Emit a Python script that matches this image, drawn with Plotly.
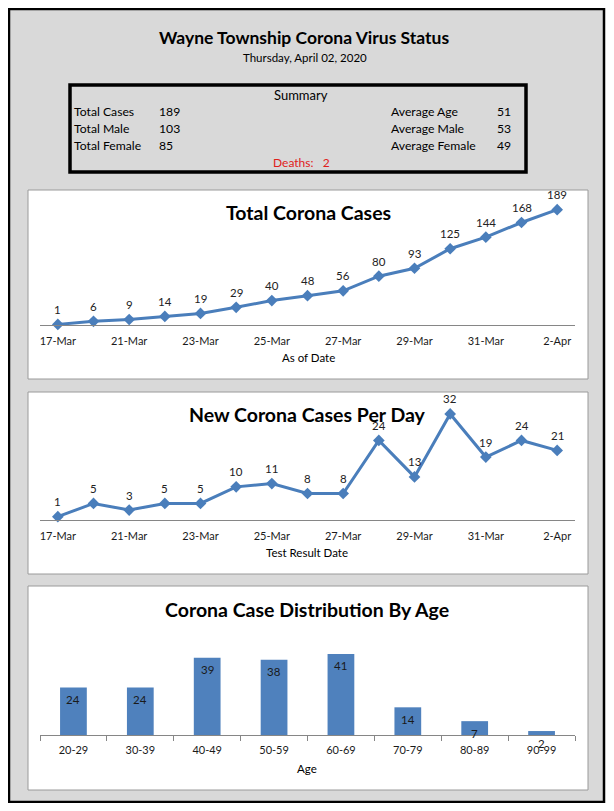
import plotly.graph_objects as go

# page offset: the browser adds an 8px body margin, so the figure is drawn
# 8px in from the window corner; all layout coordinates below are window pixels.
OFF = 8
FW, FH = 598, 795

# ---------------- data ----------------
dates = ["17-Mar", "19-Mar", "21-Mar", "22-Mar", "23-Mar", "24-Mar", "25-Mar", "26-Mar",
         "27-Mar", "28-Mar", "29-Mar", "30-Mar", "31-Mar", "1-Apr", "2-Apr"]
total_cases = [1, 6, 9, 14, 19, 29, 40, 48, 56, 80, 93, 125, 144, 168, 189]
new_cases = [1, 5, 3, 5, 5, 10, 11, 8, 8, 24, 13, 32, 19, 24, 21]
age_groups = ["20-29", "30-39", "40-49", "50-59", "60-69", "70-79", "80-89", "90-99"]
age_counts = [24, 24, 39, 38, 41, 14, 7, 2]

summary_left_labels = ["Total Cases", "Total Male", "Total Female"]
summary_left_values = [189, 103, 85]
summary_right_labels = ["Average Age", "Average Male", "Average Female"]
summary_right_values = [51, 53, 49]
deaths = 2

FONT = "Lato"
LINE_COLOR = "#4a7ebb"
BAR_COLOR = "#4f81bd"


def px(x):
    return (x - OFF) / FW


def py(y):
    return 1 - (y - OFF) / FH


fig = go.Figure()

# ---------- line chart 1 ----------
fig.add_trace(go.Scatter(
    x=dates, y=total_cases, mode="lines+markers",
    line=dict(color=LINE_COLOR, width=3),
    marker=dict(symbol="diamond", size=9, color=LINE_COLOR),
    xaxis="x", yaxis="y", showlegend=False, cliponaxis=False))

# ---------- line chart 2 ----------
fig.add_trace(go.Scatter(
    x=dates, y=new_cases, mode="lines+markers",
    line=dict(color=LINE_COLOR, width=3),
    marker=dict(symbol="diamond", size=9, color=LINE_COLOR),
    xaxis="x2", yaxis="y2", showlegend=False, cliponaxis=False))

# ---------- bar chart ----------
fig.add_trace(go.Bar(
    x=age_groups, y=age_counts, marker=dict(color=BAR_COLOR, line=dict(width=0)),
    width=0.4, xaxis="x3", yaxis="y3", showlegend=False))

xdom = [px(40), px(575)]
tickfont = dict(family=FONT, size=11, color="#1a1a1a")
line_x_common = dict(
    type="category", range=[-0.5, len(dates) - 0.5], domain=xdom,
    tickmode="array", tickvals=dates[::2], ticktext=dates[::2],
    showline=True, linecolor="#868686", linewidth=1, showgrid=False,
    zeroline=False, ticks="outside", ticklen=6, tickcolor="rgba(0,0,0,0)",
    tickfont=tickfont, fixedrange=True)

fig.update_layout(
    width=FW, height=FH,
    margin=dict(l=0, r=0, t=0, b=0),
    paper_bgcolor="white", plot_bgcolor="rgba(0,0,0,0)",
    font=dict(family=FONT, color="#000"),
    xaxis=dict(anchor="y", **line_x_common),
    yaxis=dict(domain=[py(325), py(203)], range=[0, 200], visible=False, fixedrange=True),
    xaxis2=dict(anchor="y2", **line_x_common),
    yaxis2=dict(domain=[py(520), py(404)], range=[0, 35], visible=False, fixedrange=True),
    xaxis3=dict(anchor="y3", type="category", domain=xdom, range=[-0.5, len(age_groups) - 0.5],
                showline=True, linecolor="#868686", linewidth=1, showgrid=False,
                ticks="outside", tickson="boundaries", ticklen=5, tickcolor="#868686",
                ticklabelstandoff=5, tickfont=tickfont, fixedrange=True),
    yaxis3=dict(domain=[py(735), py(646)], range=[0, 45], visible=False, fixedrange=True),
)

shapes = []
# page frame
shapes.append(dict(type="rect", xref="paper", yref="paper", x0=px(9), x1=px(604), y0=py(802), y1=py(9),
                   fillcolor="#d9d9d9", line=dict(color="black", width=2.5), layer="below"))
# panels
for top, bot in [(190, 379), (392, 574), (586, 790)]:
    shapes.append(dict(type="rect", xref="paper", yref="paper", x0=px(28), x1=px(588),
                       y0=py(bot), y1=py(top), fillcolor="white",
                       line=dict(color="#9a9a9a", width=1), layer="below"))
# summary box
shapes.append(dict(type="rect", xref="paper", yref="paper", x0=px(70), x1=px(526),
                   y0=py(172), y1=py(85), fillcolor="rgba(0,0,0,0)",
                   line=dict(color="black", width=3.5), layer="above"))
fig.update_layout(shapes=shapes)

ann = []


def text(x, y, s, size=11, color="#000", anchor="center", bold=False):
    ann.append(dict(xref="paper", yref="paper", x=px(x), y=py(y), text=f"<b>{s}</b>" if bold else s,
                    showarrow=False, xanchor=anchor, yanchor="middle",
                    font=dict(family=FONT, size=size, color=color)))


text(304, 38, "Wayne Township Corona Virus Status", size=17.5, bold=True)
text(305, 58, "Thursday, April 02, 2020", size=11.5)
text(301, 95, "Summary", size=13)
rows_y = [112, 129, 146]
for yy, lab, val in zip(rows_y, summary_left_labels, summary_left_values):
    text(72, yy, lab, size=12.2, anchor="left")
    text(157, yy, str(val), size=12.2, anchor="left")
for yy, lab, val in zip(rows_y, summary_right_labels, summary_right_values):
    text(389, yy, lab, size=12.2, anchor="left")
    text(495, yy, str(val), size=12.2, anchor="left")
text(301, 163, f"Deaths:&nbsp;&nbsp;&nbsp;{deaths}", size=12, color="#e0201b")

text(308, 213, "Total Corona Cases", size=19.5, bold=True)
text(308, 357, "As of Date", size=11.5)
text(307, 414, "New Corona Cases Per Day", size=19.5, bold=True)
text(307, 552, "Test Result Date", size=11.5)
text(307, 609, "Corona Case Distribution By Age", size=19.5, bold=True)
text(307, 768, "Age", size=11.5)

# data labels, placed through the chart axes
lab_font = dict(family=FONT, size=11.5, color="#222")
for xa, ya, vals in [("x", "y", total_cases), ("x2", "y2", new_cases)]:
    for d, v in zip(dates, vals):
        ann.append(dict(xref=xa, yref=ya, x=d, y=v, text=str(v), showarrow=False,
                        yshift=15, font=lab_font))
for g, v in zip(age_groups, age_counts):
    ann.append(dict(xref="x3", yref="y3", x=g, y=v, text=str(v), showarrow=False,
                    yshift=-12, font=dict(family=FONT, size=11.5, color="#1a1a1a")))

fig.update_layout(annotations=ann)

fig.write_html("out.html")
